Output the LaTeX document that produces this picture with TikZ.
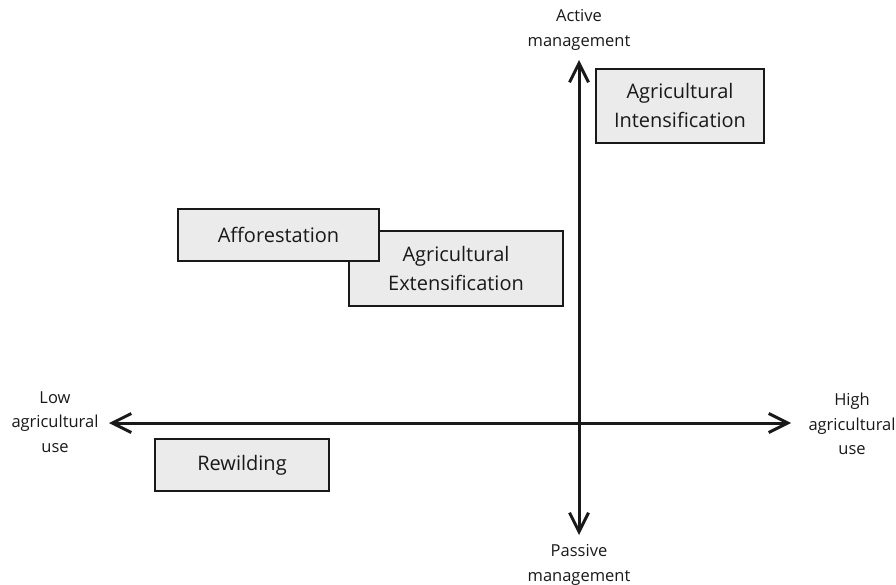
\documentclass[tikz,border=0pt]{standalone}
\usepackage{fontspec}
\setmainfont{Open Sans}
\usetikzlibrary{arrows.meta}
\begin{document}
\begin{tikzpicture}[x=1pt, y=-1pt,
  axis/.style={line width=3pt, draw=black!90, {Straight Barb[length=19pt, width=19pt, line width=3pt]}-{Straight Barb[length=19pt, width=19pt, line width=3pt]}},
  axislabel/.style={align=center, font=\fontsize{16.5}{24.5}\selectfont, text=black!90},
  option/.style={draw=black!90, line width=2pt, fill=black!8, align=center, inner sep=0pt, font=\fontsize{20}{29}\selectfont, text=black!90}]
\useasboundingbox (0,0) rectangle (896,585);
% axes
\coordinate (top) at (579,60);
\coordinate (bottom) at (579,535);
\coordinate (left) at (109,423);
\coordinate (right) at (791,423);
\draw[axis] (bottom) -- (top);
\draw[axis] (left) -- (right);
\node[axislabel] (active) at (579,30) {Active\\management};
\node[axislabel] (passive) at (579,565) {Passive\\management};
\node[axislabel] (low) at (55,422) {Low\\agricultural\\use};
\node[axislabel] (high) at (852,424) {High\\agricultural\\use};
% land use options
\node[option, minimum width=168pt, minimum height=74pt] (intens) at (680,106) {Agricultural\\Intensification};
\node[option, minimum width=214pt, minimum height=75pt] (extens) at (456,268.5) {Agricultural\\Extensification};
\node[option, minimum width=201pt, minimum height=52pt] (affor) at (278.5,235) {Afforestation};
\node[option, minimum width=174pt, minimum height=52pt] (rewild) at (242,465) {Rewilding};
\end{tikzpicture}
\end{document}
